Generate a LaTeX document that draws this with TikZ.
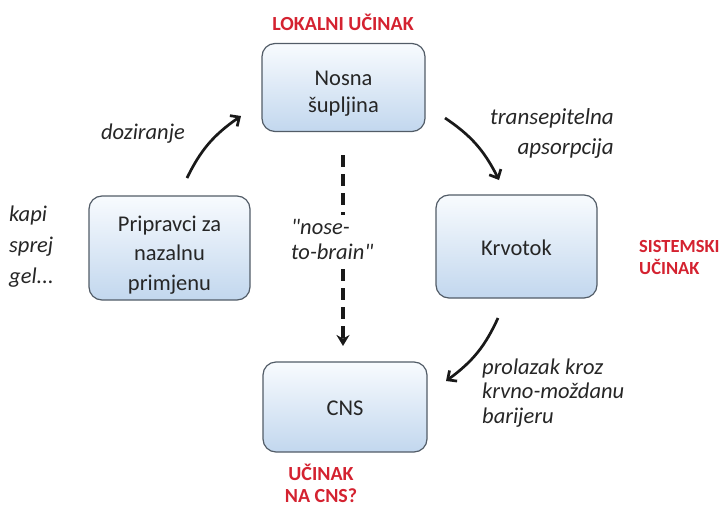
\documentclass[tikz,border=0pt]{standalone}
\usepackage{fontspec}
\setmainfont{Carlito}
\usetikzlibrary{arrows.meta,bending}
\definecolor{redc}{HTML}{D42230}
\definecolor{boxline}{HTML}{525C67}
\definecolor{boxtop}{HTML}{F8FBFE}
\definecolor{boxbot}{HTML}{C2D7EE}
\definecolor{ink}{HTML}{262626}
\newcommand{\boxtxt}[2]{\raisebox{#1}[\height][\depth]{\begin{tabular}{@{}c@{}}#2\end{tabular}}}
\begin{document}
\begin{tikzpicture}[x=1pt,y=-1pt,
  box/.style={draw=boxline, line width=1.2pt, rounded corners=13pt,
    top color=boxtop, bottom color=boxbot, text=ink,
    font=\fontsize{22.5}{27}\selectfont, inner sep=0pt},
  redlab/.style={text=redc, font=\bfseries\fontsize{20}{22}\selectfont, inner sep=0pt},
  lab/.style={text=ink, font=\itshape\fontsize{22.5}{30}\selectfont, inner sep=0pt},
  flow/.style={line width=2.7pt, draw=black!90, -{Straight Barb[length=7pt,width=13pt]}, bend left=15},
  dflow/.style={line width=3.5pt, draw=black!90, dash pattern=on 12pt off 7pt, -{Stealth[length=11pt,width=13pt]}}
]
\useasboundingbox (0,0) rectangle (724,509);

% boxes
\node[box, minimum width=163pt, minimum height=88pt] (nos) at (343.5,87.5) {\boxtxt{-6pt}{Nosna\\šupljina}};
\node[box, minimum width=161pt, minimum height=104pt, font=\fontsize{22.5}{29.5}\selectfont] (pri) at (169.5,248) {\boxtxt{-7pt}{Pripravci za\\nazalnu\\primjenu}};
\node[box, minimum width=161pt, minimum height=103pt] (krv) at (516.5,246.5) {\boxtxt{-4pt}{Krvotok}};
\node[box, minimum width=164pt, minimum height=90pt] (cns) at (345,407) {\boxtxt{-3pt}{CNS}};

% red labels
\node[redlab] (lok) at (343,22) {LOKALNI UČINAK};
\node[redlab, anchor=west, align=left, font=\bfseries\fontsize{18.5}{22}\selectfont] (sis) at (639,257) {SISTEMSKI\\UČINAK};
\node[redlab, align=center] (ucns) at (321,483) {UČINAK\\NA CNS?};

% italic labels
\node[lab, anchor=west, align=left, font=\itshape\fontsize{22.5}{31}\selectfont] (kap) at (9,247) {kapi\\sprej\\gel...};
\node[lab] (doz) at (143,134) {doziranje};
\node[lab, anchor=east, align=right, font=\itshape\fontsize{23}{30}\selectfont] (tra) at (614,133) {transepitelna\\apsorpcija};
\node[lab, anchor=west, align=left, font=\itshape\fontsize{22.5}{24.5}\selectfont] (pro) at (482,393) {prolazak kroz\\krvno-moždanu\\barijeru};

% arrow endpoints
\coordinate (d1) at (187,178);
\coordinate (d2) at (241,116);
\coordinate (t1) at (445,118);
\coordinate (t2) at (499,180);
\coordinate (p1) at (498,318);
\coordinate (p2) at (446,381);
\coordinate (n1) at (343,155);
\coordinate (n2) at (343,346);

\draw[flow] (d1) to (d2);
\draw[flow] (t1) to (t2);
\draw[flow] (p1) to (p2);
\draw[dflow] (n1) -- (n2);

\node[lab, anchor=west, align=left, fill=white, inner ysep=4pt, inner xsep=0pt, font=\itshape\fontsize{22.5}{25}\selectfont\addfontfeatures{Ligatures=TeXOff}] (ntb) at (291,239) {"nose-\\to-brain"};
\end{tikzpicture}
\end{document}
